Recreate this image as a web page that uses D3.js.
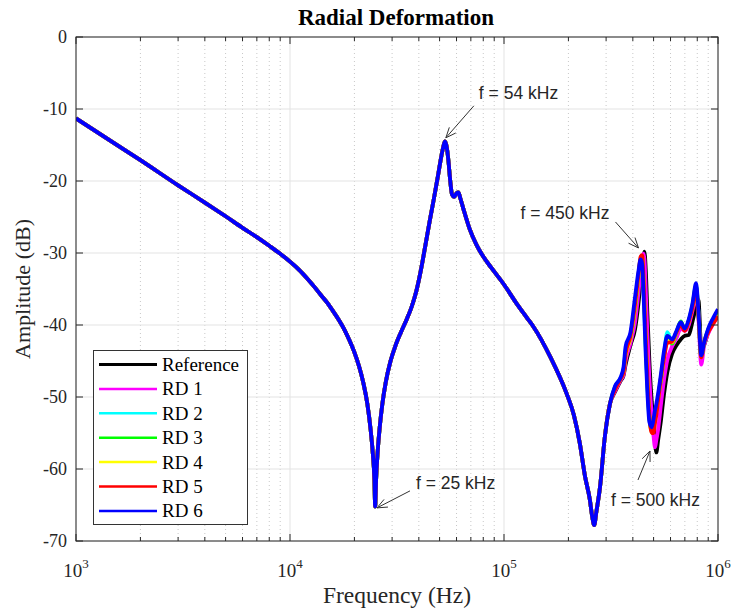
<!DOCTYPE html>
<html><head><meta charset="utf-8">
<script src="https://cdn.jsdelivr.net/npm/d3@7"></script>
<style>body{margin:0;background:#fff}svg{display:block}</style>
</head><body>
<svg id="chart" width="734" height="614"></svg>
<script>
// ---------- DATA ----------
// shared part of all traces (Hz, dB)
const baseFreq = [1000,1500,2000,3000,4000,5000,6000,7000,8000,9000,10000,11000,12000,13000,14000,15000,16000,17000,18000,19000,20000,21000,22000,23000,23800,24400,24800,25000,25250,25700,26300,27000,28000,29500,31000,33000,35000,37000,39000,41000,43000,45000,47000,49000,51000,52000,53000,54000,55000,56000,57200,58500,60000,61200,62500,64500,69000,74500,80000,87000,99000,115000,128000,137000,165000,196000,212000,226000,239000,252000,258000,264000,270000,281000,296000,313000];
const baseDb   = [-11.3,-14.7,-17.1,-20.6,-23.0,-24.9,-26.5,-27.8,-29.0,-30.1,-31.2,-32.3,-33.5,-34.7,-35.9,-37.0,-38.2,-39.4,-40.7,-42.2,-43.8,-45.7,-48.0,-51.0,-54.5,-58.0,-61.5,-65.2,-61.5,-57.5,-54.0,-51.0,-48.0,-45.0,-43.0,-41.0,-39.3,-37.5,-35.2,-32.2,-28.8,-25.5,-22.5,-19.5,-16.5,-15.3,-14.5,-15.3,-17.2,-19.8,-21.9,-22.2,-21.7,-21.6,-22.4,-23.8,-26.6,-28.9,-30.5,-32.0,-34.2,-37.1,-39.0,-40.2,-44.5,-49.5,-52.5,-56.4,-61.0,-64.3,-66.5,-67.8,-66.0,-62.5,-55.5,-50.9];
// high-frequency part where the traces differ (kHz)
const hfFreqK = [330,350,362,370,390,410,425,435,442,448,453,460,468,478,490,500,508,515,525,540,560,580,610,640,670,700,730,760,790,810,835,860,900,950,1000];
const refDb = [-49.3,-47.8,-47.0,-45.5,-42.8,-40.5,-37.0,-34.0,-32.0,-30.6,-29.8,-32.5,-38.5,-45.0,-50.5,-53.5,-56.0,-57.7,-56.0,-53.5,-49.5,-46.5,-44.0,-42.8,-42.0,-41.5,-41.4,-39.5,-37.5,-36.5,-43.2,-42.8,-41.0,-39.5,-38.5];
const rd1Db = [-49.2,-47.7,-46.9,-45.0,-42.5,-39.5,-35.5,-32.5,-31.0,-30.1,-30.8,-35.5,-41.5,-47.5,-52.5,-55.5,-57.0,-56.0,-54.5,-51.3,-47.5,-44.8,-43.0,-41.8,-40.5,-40.8,-40.0,-38.0,-35.8,-39.0,-45.5,-43.0,-41.2,-39.8,-38.7];
const rd2Db = [-48.6,-47.4,-46.2,-43.5,-41.5,-37.0,-33.0,-31.0,-31.0,-34.0,-38.0,-43.5,-48.5,-53.0,-54.5,-53.5,-52.3,-51.5,-50.0,-47.5,-44.0,-41.0,-42.5,-41.0,-39.8,-40.6,-39.4,-37.2,-34.5,-38.3,-44.3,-42.5,-40.6,-39.2,-38.0];
const rd3Db = [-48.7,-47.5,-46.4,-44.0,-41.8,-37.5,-33.3,-31.0,-30.8,-33.5,-37.5,-43.0,-48.0,-52.8,-54.6,-53.8,-52.6,-51.8,-50.2,-47.8,-44.3,-41.5,-42.6,-41.0,-39.5,-40.6,-39.4,-37.3,-34.6,-38.4,-44.4,-42.6,-40.7,-39.3,-38.1];
const rd4Db = [-48.9,-47.5,-46.5,-44.2,-41.8,-37.3,-33.2,-30.7,-30.5,-33.3,-37.3,-42.5,-47.8,-52.7,-54.8,-54.5,-53.2,-52.2,-50.3,-47.6,-44.4,-42.2,-42.4,-41.0,-39.9,-40.7,-39.5,-37.4,-34.8,-38.4,-44.4,-42.5,-40.9,-39.6,-38.6];
const rd5Db = [-49.0,-47.5,-46.5,-44.0,-41.5,-37.0,-33.0,-30.5,-30.3,-33.0,-37.0,-42.0,-47.5,-52.5,-55.0,-55.0,-53.5,-52.5,-50.5,-47.5,-44.5,-42.5,-42.3,-41.0,-40.0,-40.8,-39.5,-37.5,-35.0,-38.5,-44.5,-42.5,-41.0,-39.8,-38.8];
const rd6Db = [-48.5,-47.3,-45.8,-43.0,-41.0,-36.0,-32.5,-30.9,-31.5,-35.0,-39.0,-44.5,-49.5,-53.5,-54.2,-53.0,-51.8,-51.0,-49.5,-47.0,-43.5,-41.5,-42.0,-40.8,-39.6,-40.5,-39.2,-37.0,-34.2,-38.0,-44.2,-42.5,-40.5,-39.0,-37.8];
const seriesNames  = ["Reference","RD 1","RD 2","RD 3","RD 4","RD 5","RD 6"];
const seriesColors = ["#000000","#ff00ff","#00ffff","#00ff00","#ffff00","#ff0000","#0000ff"];
const seriesHf     = [refDb, rd1Db, rd2Db, rd3Db, rd4Db, rd5Db, rd6Db];
const yTickValues  = [0,-10,-20,-30,-40,-50,-60,-70];
const xTickExps    = [3,4,5,6];
const annotText = ["f = 54 kHz","f = 450 kHz","f = 25 kHz","f = 500 kHz"];
const annotFreq = [53500, 425000, 25500, 481000];
const annotDb   = [-14.0, -29.3, -65.4, -57.5];

// ---------- LAYOUT ----------
const svg = d3.select("#chart");
const L = 76, R = 718, T = 37, B = 541;
const x = d3.scaleLog().domain([1e3, 1e6]).range([L, R]);
const y = d3.scaleLinear().domain([-70, 0]).range([B, T]);
const axisCol = "#262626";
const serif = "'Liberation Serif','Times New Roman',serif";
const sans = "'Liberation Sans',Arial,sans-serif";

// grid
const minorTicks = [];
for (let e = 3; e < 6; e++) for (let k = 2; k <= 9; k++) minorTicks.push(k * Math.pow(10, e));
const majorX = xTickExps.map(e => Math.pow(10, e));
const g = svg.append("g");
g.selectAll(".mg").data(minorTicks).join("line")
  .attr("x1", d => x(d)).attr("x2", d => x(d)).attr("y1", T).attr("y2", B)
  .attr("stroke", "#c8c8c8").attr("stroke-width", 1).attr("stroke-dasharray", "1,3");
g.selectAll(".gx").data(majorX).join("line")
  .attr("x1", d => x(d)).attr("x2", d => x(d)).attr("y1", T).attr("y2", B)
  .attr("stroke", "#e3e3e3").attr("stroke-width", 1);
g.selectAll(".gy").data(yTickValues).join("line")
  .attr("x1", L).attr("x2", R).attr("y1", d => y(d)).attr("y2", d => y(d))
  .attr("stroke", "#e3e3e3").attr("stroke-width", 1);

// series
const line = d3.line().x(d => x(d[0])).y(d => y(d[1])).curve(d3.curveMonotoneX);
const basePts = baseFreq.map((f, i) => [f, baseDb[i]]);
svg.append("clipPath").attr("id", "clip").append("rect")
  .attr("x", L).attr("y", T).attr("width", R - L).attr("height", B - T);
const lg = svg.append("g").attr("clip-path", "url(#clip)");
seriesHf.forEach((vals, s) => {
  const pts = basePts.concat(hfFreqK.map((f, i) => [f * 1000, vals[i]]));
  lg.append("path").datum(pts).attr("d", line)
    .attr("fill", "none").attr("stroke", seriesColors[s])
    .attr("stroke-width", 3.8).attr("stroke-linejoin", "round");
});

// box + ticks
svg.append("rect").attr("x", L).attr("y", T).attr("width", R - L).attr("height", B - T)
  .attr("fill", "none").attr("stroke", axisCol).attr("stroke-width", 1);
const tk = svg.append("g").attr("stroke", axisCol).attr("stroke-width", 1);
majorX.forEach(v => {
  tk.append("line").attr("x1", x(v)).attr("x2", x(v)).attr("y1", B).attr("y2", B - 7);
  tk.append("line").attr("x1", x(v)).attr("x2", x(v)).attr("y1", T).attr("y2", T + 7);
});
minorTicks.forEach(v => {
  tk.append("line").attr("x1", x(v)).attr("x2", x(v)).attr("y1", B).attr("y2", B - 4);
  tk.append("line").attr("x1", x(v)).attr("x2", x(v)).attr("y1", T).attr("y2", T + 4);
});
yTickValues.forEach(v => {
  tk.append("line").attr("x1", L).attr("x2", L + 7).attr("y1", y(v)).attr("y2", y(v));
  tk.append("line").attr("x1", R).attr("x2", R - 7).attr("y1", y(v)).attr("y2", y(v));
});

// tick labels
svg.selectAll(".yl").data(yTickValues).join("text")
  .attr("x", L - 9).attr("y", d => y(d) + 6)
  .attr("text-anchor", "end").attr("font-family", serif).attr("font-size", 18)
  .attr("fill", axisCol).text(d => d);
xTickExps.forEach(e => {
  const t = svg.append("text").attr("x", x(Math.pow(10, e))).attr("y", 577)
    .attr("text-anchor", "middle").attr("font-family", serif).attr("font-size", 19).attr("fill", axisCol);
  t.append("tspan").text("10");
  t.append("tspan").attr("dy", -9).attr("font-size", 13).text(e);
});

// axis labels and title
svg.append("text").attr("x", 397).attr("y", 603).attr("text-anchor", "middle")
  .attr("font-family", serif).attr("font-size", 23.5).attr("fill", axisCol).text("Frequency (Hz)");
svg.append("text").attr("transform", `translate(30,${(T + B) / 2}) rotate(-90)`).attr("text-anchor", "middle")
  .attr("font-family", serif).attr("font-size", 22).attr("fill", axisCol).text("Amplitude (dB)");
svg.append("text").attr("x", 396).attr("y", 25).attr("text-anchor", "middle")
  .attr("font-family", serif).attr("font-weight", "bold").attr("font-size", 23).attr("fill", "#000").text("Radial Deformation");

// annotations
const annotLayout = [ {tail:[28,-32], text:[33,-39]}, {tail:[-23,-26], text:[-118,-29]},
                      {tail:[33,-17], text:[39,-19]}, {tail:[-12,29], text:[-39,55]} ];
const ag = svg.append("g");
annotText.forEach((txt, i) => {
  const tx = x(annotFreq[i]), ty = y(annotDb[i]);
  const lay = annotLayout[i];
  const sx = tx + lay.tail[0], sy = ty + lay.tail[1];
  ag.append("line").attr("x1", sx).attr("y1", sy).attr("x2", tx).attr("y2", ty)
    .attr("stroke", "#333").attr("stroke-width", 1);
  const ang = Math.atan2(sy - ty, sx - tx), hl = 11, ha = 0.4;
  ag.append("path").attr("d",
      `M${tx + hl * Math.cos(ang + ha)},${ty + hl * Math.sin(ang + ha)}L${tx},${ty}L${tx + hl * Math.cos(ang - ha)},${ty + hl * Math.sin(ang - ha)}`)
    .attr("fill", "none").attr("stroke", "#333").attr("stroke-width", 1);
  ag.append("text").attr("x", tx + lay.text[0]).attr("y", ty + lay.text[1])
    .attr("font-family", sans).attr("font-size", 17.5).attr("fill", "#262626").text(txt);
});

// legend
const leg = svg.append("g");
leg.append("rect").attr("x", 93.5).attr("y", 350.5).attr("width", 154).attr("height", 174)
  .attr("fill", "#fff").attr("stroke", "#333").attr("stroke-width", 1);
seriesNames.forEach((nm, i) => {
  const ry = 364.5 + i * 24.4;
  leg.append("line").attr("x1", 99).attr("x2", 157).attr("y1", ry).attr("y2", ry)
    .attr("stroke", seriesColors[i]).attr("stroke-width", i === 0 ? 3 : 2.5);
  leg.append("text").attr("x", 162).attr("y", ry + 6.5).attr("font-family", serif)
    .attr("font-size", 19).attr("fill", "#000").text(nm);
});
</script>
</body></html>
